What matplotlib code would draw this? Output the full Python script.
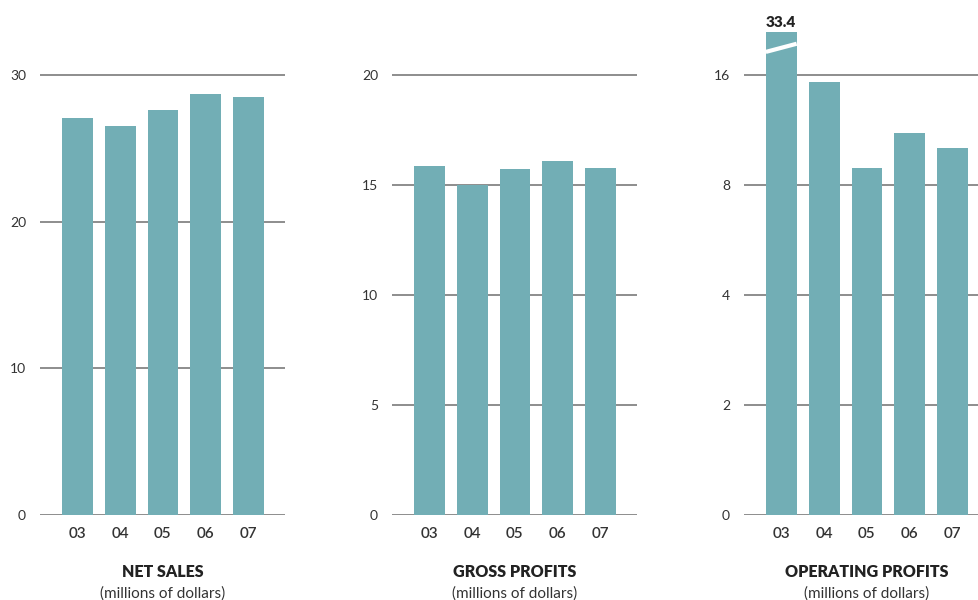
import numpy as np
import matplotlib
matplotlib.use("Agg")
import matplotlib.pyplot as plt

# =========================
# DATOS
# =========================
anios = ["03", "04", "05", "06", "07"]

ventas_netas = [27.1, 26.5, 27.6, 28.7, 28.5]
ganancia_bruta = [15.86, 15.0, 15.73, 16.09, 15.77]
ganancia_operativa = [33.4, 15.5, 9.25, 11.75, 10.7]

ticks_ventas = [0, 10, 20, 30]
ticks_bruta = [0, 5, 10, 15, 20]
ticks_operativa = [0, 2, 4, 8, 16]

titulos = ["NET SALES", "GROSS PROFITS", "OPERATING PROFITS"]
subtitulo = "(millions of dollars)"

COLOR_BARRA = "#72aeb5"
COLOR_LINEA = "#7a7a7a"
COLOR_TEXTO = "#333333"

plt.rcParams["font.family"] = ["Lato", "DejaVu Sans"]

W, H = 979, 600
fig = plt.figure(figsize=(W / 100, H / 100), dpi=100)

# pixeles: eje cero en y=515, ultima linea en y=75, tope del eje en y=32
Y0, YTOP_LINE, YTOP_AX = 515, 75, 32
frac = (Y0 - YTOP_AX) / (Y0 - YTOP_LINE)


def crear_eje(x_izq):
    ancho = 245
    ax = fig.add_axes([x_izq / W, (H - Y0) / H, ancho / W, (Y0 - YTOP_AX) / H])
    for s in ax.spines.values():
        s.set_visible(False)
    ax.set_xlim(-0.87, 4.85)
    return ax


def dibujar(ax, valores, ticks, titulo, escala=None):
    x = np.arange(len(anios))
    if escala is not None:
        ax.set_yscale("function", functions=escala)
        # tope: misma fraccion en espacio de posicion
        pos_top = (len(ticks) - 1) * frac
        top = np.interp(pos_top, np.arange(len(ticks) + 1), ticks + [ticks[-1] * 2])
    else:
        top = ticks[-1] * frac
    ax.set_ylim(0, top)
    ax.bar(x, valores, width=0.72, color=COLOR_BARRA, zorder=1)
    for t in ticks:
        ax.axhline(t, color=COLOR_LINEA, lw=1.2, zorder=0)
    ax.set_yticks(ticks)
    ax.set_yticklabels([str(t) for t in ticks])
    ax.set_xticks(x)
    ax.set_xticklabels(anios)
    ax.tick_params(axis="both", length=0, colors=COLOR_TEXTO)
    ax.tick_params(axis="y", pad=10, labelsize=10)
    ax.tick_params(axis="x", pad=9, labelsize=11)
    for lab in ax.get_xticklabels():
        lab.set_fontweight("semibold")
    ax.text(0.5, -0.118, titulo, transform=ax.transAxes, ha="center", va="center",
            fontsize=11.5, fontweight="heavy", color="#222222")
    ax.text(0.5, -0.163, subtitulo, transform=ax.transAxes, ha="center", va="center",
            fontsize=11, color=COLOR_TEXTO)
    return top


ax1 = crear_eje(40)
dibujar(ax1, ventas_netas, ticks_ventas, titulos[0])

ax2 = crear_eje(392)
dibujar(ax2, ganancia_bruta, ticks_bruta, titulos[1])

ax3 = crear_eje(744)
pos = [0, 1, 2, 3, 4, 5]
vals = [0, 2, 4, 8, 16, 32]
escala = (lambda v: np.interp(v, vals, pos), lambda p: np.interp(p, pos, vals))
dibujar(ax3, ganancia_operativa, ticks_operativa, titulos[2], escala=escala)

# corte de la barra 03 y etiqueta
ax3.plot([-0.36, 0.36], [0.9588, 0.9757], transform=ax3.get_xaxis_transform(),
         color="white", lw=3, solid_capstyle="butt", zorder=3)
ax3.annotate(f"{ganancia_operativa[0]}", xy=(0, 1), xycoords=ax3.get_xaxis_transform(),
             xytext=(0, 2.5), textcoords="offset points", ha="center", va="bottom",
             fontsize=11, fontweight="heavy", color="#222222")

plt.savefig("out.png", dpi=100)
plt.close()
